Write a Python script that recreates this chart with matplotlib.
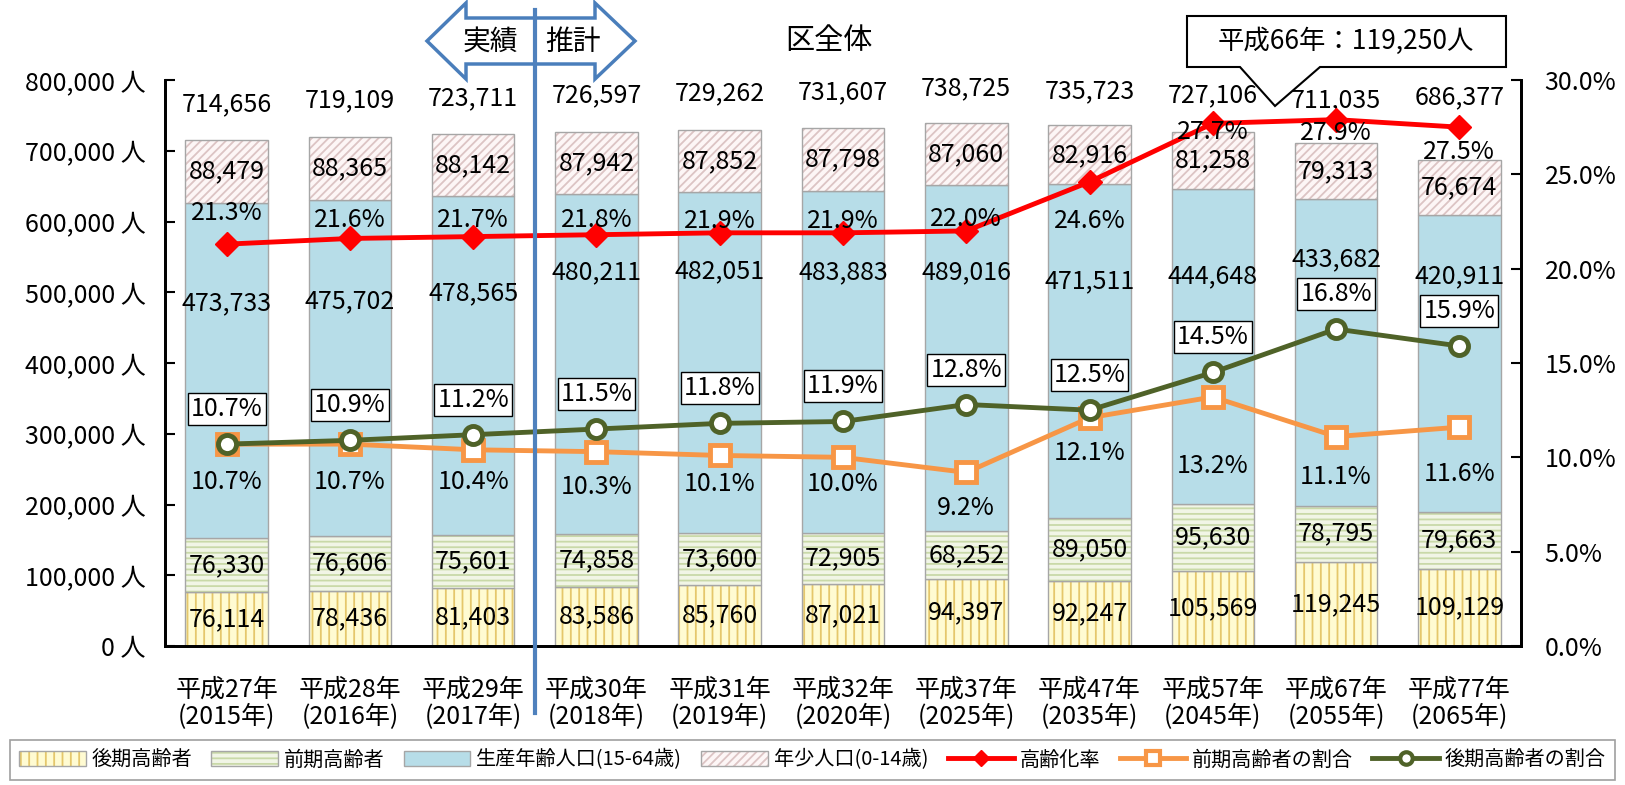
import numpy as np
import matplotlib
matplotlib.use('Agg')
import matplotlib.pyplot as plt
import matplotlib.transforms as mtransforms
from matplotlib.patches import Patch, Polygon
from matplotlib.lines import Line2D
from matplotlib.legend_handler import HandlerTuple

plt.rcParams['font.family'] = ['Noto Sans CJK JP', 'DejaVu Sans']
plt.rcParams['hatch.linewidth'] = 1.3

# データ
years = ['平成27年\n(2015年)', '平成28年\n(2016年)', '平成29年\n(2017年)', '平成30年\n(2018年)',
         '平成31年\n(2019年)', '平成32年\n(2020年)', '平成37年\n(2025年)', '平成47年\n(2035年)',
         '平成57年\n(2045年)', '平成67年\n(2055年)', '平成77年\n(2065年)']
late_elderly = [76114, 78436, 81403, 83586, 85760, 87021, 94397, 92247, 105569, 119245, 109129]
early_elderly = [76330, 76606, 75601, 74858, 73600, 72905, 68252, 89050, 95630, 78795, 79663]
working_age = [473733, 475702, 478565, 480211, 482051, 483883, 489016, 471511, 444648, 433682, 420911]
children = [88479, 88365, 88142, 87942, 87852, 87798, 87060, 82916, 81258, 79313, 76674]
totals = [714656, 719109, 723711, 726597, 729262, 731607, 738725, 735723, 727106, 711035, 686377]
aging_rate = [21.3, 21.6, 21.7, 21.8, 21.9, 21.9, 22.0, 24.6, 27.7, 27.9, 27.5]
early_share = [10.7, 10.7, 10.4, 10.3, 10.1, 10.0, 9.2, 12.1, 13.2, 11.1, 11.6]
late_share = [10.7, 10.9, 11.2, 11.5, 11.8, 11.9, 12.8, 12.5, 14.5, 16.8, 15.9]

# ラベル位置（手動調整）
total_label_y = [766000, 771000, 774000, 778000, 781000, 783000, 789000, 784000, 779000, 772000, 775000]
working_label_y = [484000, 487000, 498000, 528000, 529000, 528000, 528000, 515000, 522000, 547000, 522000]
rate_label_dy = [31, 18, 17, 15, 12, 12, 12, -39, -9, -13, -25]
early_label_dy = [-38, -38, -32, -35, -29, -27, -36, -35, -69, -40, -47]

W, H = 1625, 785
def fx(px):
    return px / W
def fy(py):
    return 1 - py / H

fig = plt.figure(figsize=(16.25, 7.85), dpi=100)
ax = fig.add_axes([fx(165), fy(646), (1521 - 165) / W, (646 - 80) / H])
ax2 = ax.twinx()

x = np.arange(len(years))
w = 0.67
edge = '#A6A6A6'
styles = [
    ('#FFFBD2', '||', '#E5C76B'),
    ('#F1F5E6', '---', '#C9D9A8'),
    ('#B7DDE8', None, None),
    ('#FDF6F6', '////', '#DCC4C4'),
]
series = [late_elderly, early_elderly, working_age, children]
centered = [True, True, False, True]

bottom = np.zeros(len(x))
for vals, (face, hatch, hcol), cen in zip(series, styles, centered):
    vals = np.array(vals, dtype=float)
    ax.bar(x, vals, w, bottom=bottom, color=face, edgecolor='none', linewidth=0, zorder=2)
    if hatch:
        ax.bar(x, vals, w, bottom=bottom, color='none', edgecolor=hcol, hatch=hatch, linewidth=0, zorder=2)
    ax.bar(x, vals, w, bottom=bottom, color='none', edgecolor=edge, linewidth=1, zorder=2)
    if cen:
        for i, v in enumerate(vals):
            ax.text(x[i], bottom[i] + v / 2, f'{int(v):,}', ha='center', va='center', fontsize=18, zorder=3)
    bottom += vals

for i, v in enumerate(working_age):
    ax.text(x[i], working_label_y[i], f'{v:,}', ha='center', va='center', fontsize=18, zorder=3)
for i, v in enumerate(totals):
    ax.text(x[i], total_label_y[i], f'{v:,}', ha='center', va='center', fontsize=18, zorder=3)

ax.set_xlim(-0.5, len(x) - 0.5)
ax.set_ylim(0, 800000)
ax.set_yticks(np.arange(0, 800001, 100000))
ax.set_yticklabels([f'{v:,} 人' for v in range(0, 800001, 100000)])
ax.set_xticks(x)
ax.set_xticklabels(years, linespacing=1.05)
ax.tick_params(axis='x', length=0, pad=22, labelsize=18)
ax.tick_params(axis='y', direction='in', length=7, width=1.5, pad=14, labelsize=18)

ax2.set_ylim(0, 30)
ax2.set_yticks(np.arange(0, 30.1, 5))
ax2.set_yticklabels([f'{v:.1f}%' for v in np.arange(0, 30.1, 5)])
ax2.tick_params(axis='y', direction='in', length=7, width=1.5, pad=17, labelsize=18)

for a in (ax, ax2):
    a.spines['top'].set_visible(False)
    for s in ('left', 'right', 'bottom'):
        a.spines[s].set_linewidth(2)

ax2.plot(x, aging_rate, color='#FF0000', lw=3.5, marker='D', ms=12, zorder=3)
ax2.plot(x, early_share, color='#F79646', lw=3.5, marker='s', ms=14, mfc='white', mec='#F79646', mew=3.5, zorder=4)
ax2.plot(x, late_share, color='#4F6228', lw=3.5, marker='o', ms=13, mfc='white', mec='#4F6228', mew=3.5, zorder=5)

for i, v in enumerate(aging_rate):
    ax2.annotate(f'{v:.1f}%', (x[i], v), xytext=(0, rate_label_dy[i]), textcoords='offset pixels',
                 ha='center', va='center', fontsize=18, zorder=6)
for i, v in enumerate(early_share):
    ax2.annotate(f'{v:.1f}%', (x[i], v), xytext=(0, early_label_dy[i]), textcoords='offset pixels',
                 ha='center', va='center', fontsize=18, zorder=6)
for i, v in enumerate(late_share):
    ax2.annotate(f'{v:.1f}%', (x[i], v), xytext=(0, 35), textcoords='offset pixels',
                 ha='center', va='center', fontsize=18, zorder=6,
                 bbox=dict(boxstyle='square,pad=0.12', fc='white', ec='black', lw=1))

# 実績／推計の矢印
arrow_pts = [(427, 41), (466, 3), (466, 18), (595, 18), (595, 3), (635, 41),
             (595, 79), (595, 64), (466, 64), (466, 79)]
fig.add_artist(Polygon([(fx(a), fy(b)) for a, b in arrow_pts], closed=True, transform=fig.transFigure,
                       fc='white', ec='#4A7EBB', lw=2.5, zorder=5))
fig.text(fx(490), fy(42), '実績', ha='center', va='center', fontsize=20, zorder=6)
fig.text(fx(573), fy(42), '推計', ha='center', va='center', fontsize=20, zorder=6)
trans = mtransforms.blended_transform_factory(ax.transData, fig.transFigure)
fig.add_artist(Line2D([2.5, 2.5], [fy(713), fy(10)], transform=trans, color='#4F81BD', lw=3, zorder=7))

fig.text(fx(829), fy(41), '区全体', ha='center', va='center', fontsize=21)

# 吹き出し
callout = [(1187, 16), (1506, 16), (1506, 67), (1320, 67), (1275, 106), (1240, 67), (1187, 67)]
fig.add_artist(Polygon([(fx(a), fy(b)) for a, b in callout], closed=True, transform=fig.transFigure,
                       fc='white', ec='black', lw=1.5, zorder=5))
fig.text(fx(1346), fy(41), '平成66年：119,250人', ha='center', va='center', fontsize=19, zorder=6)

# 凡例
handles = []
for face, hatch, hcol in styles:
    parts = [Patch(fc=face, ec='none', lw=0)]
    if hatch:
        parts.append(Patch(fc='none', ec=hcol, hatch=hatch, lw=0))
    parts.append(Patch(fc='none', ec=edge, lw=1))
    handles.append(tuple(parts))
handles += [
    Line2D([], [], color='#FF0000', lw=3.5, marker='D', ms=8),
    Line2D([], [], color='#F79646', lw=3.5, marker='s', ms=10, mfc='white', mec='#F79646', mew=3),
    Line2D([], [], color='#4F6228', lw=3.5, marker='o', ms=9, mfc='white', mec='#4F6228', mew=3),
]
labels = ['後期高齢者', '前期高齢者', '生産年齢人口(15-64歳)', '年少人口(0-14歳)', '高齢化率', '前期高齢者の割合', '後期高齢者の割合']
leg = fig.legend(handles, labels, loc='center', bbox_to_anchor=(0.5, fy(760)), ncol=7, fontsize=14.5,
                 handler_map={tuple: HandlerTuple(ndivide=1, pad=0)}, handlelength=3.3,
                 columnspacing=0.95, handletextpad=0.3, fancybox=False, edgecolor='#A0A0A0',
                 framealpha=1, borderpad=0.45)
leg.get_frame().set_linewidth(1.2)

fig.savefig('out.png', dpi=100)
